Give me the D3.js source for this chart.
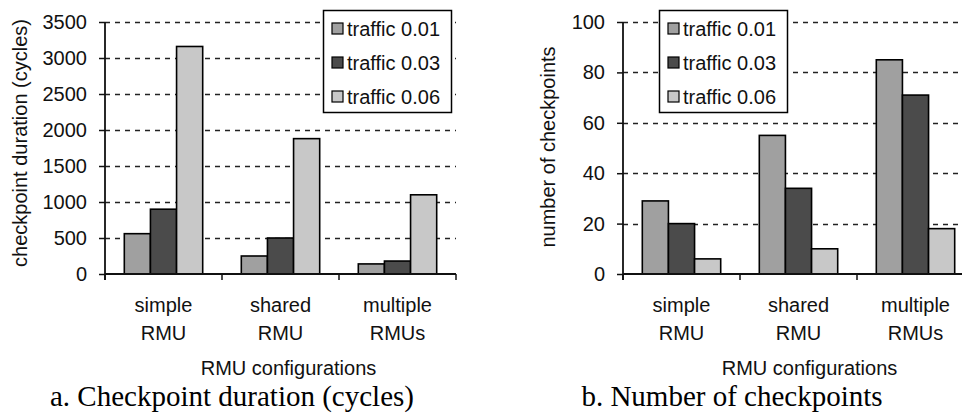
<!DOCTYPE html>
<html>
<head>
<meta charset="utf-8">
<script src="https://cdn.jsdelivr.net/npm/d3@7"></script>
<style>
  html, body { margin: 0; padding: 0; background: #ffffff; }
  svg { display: block; }
  .sans { font-family: Arial, "Liberation Sans", sans-serif; fill: #111; }
  .serif { font-family: "Times New Roman", "Liberation Serif", serif; fill: #000; }
</style>
</head>
<body>
<svg id="chart" width="962" height="414"></svg>
<script>
// ---- data ----
const categories = [["simple", "RMU"], ["shared", "RMU"], ["multiple", "RMUs"]];
const seriesNames = ["traffic 0.01", "traffic 0.03", "traffic 0.06"];
const seriesColors = ["#a0a0a0", "#4b4b4b", "#c8c8c8"];
const durationValues = [
  [560, 900, 3160],   // simple RMU
  [250, 500, 1880],   // shared RMU
  [140, 180, 1100]    // multiple RMUs
];
const checkpointValues = [
  [29, 20, 6],
  [55, 34, 10],
  [85, 71, 18]
];
const durationTicks = [0, 500, 1000, 1500, 2000, 2500, 3000, 3500];
const checkpointTicks = [0, 20, 40, 60, 80, 100];

const FS = 20;
const svg = d3.select("#chart");
svg.append("rect").attr("x", 0).attr("y", 0).attr("width", 962).attr("height", 414).attr("fill", "#fff");

function drawPanel(opts) {
  const g = svg.append("g");
  const catKeys = categories.map((c, i) => i);
  const x0 = d3.scaleBand().domain(catKeys).range([opts.left, opts.right]).paddingInner(0).paddingOuter(0);
  const bw = x0.bandwidth();
  const x1 = d3.scaleBand().domain(d3.range(seriesNames.length))
    .range([bw * 0.165, bw * 0.835]).padding(0);
  const y = d3.scaleLinear().domain([0, opts.max]).range([opts.bottom, opts.top]);

  // gridlines
  g.append("g").selectAll("line").data(opts.ticks.filter(t => t > 0)).join("line")
    .attr("x1", opts.left).attr("x2", opts.right)
    .attr("y1", d => Math.round(y(d)) + 0.5).attr("y2", d => Math.round(y(d)) + 0.5)
    .attr("stroke", "#222").attr("stroke-width", 1.3).attr("stroke-dasharray", "5,5");

  // y axis
  const yAxis = d3.axisLeft(y).tickValues(opts.ticks).tickFormat(d3.format("d")).tickSize(6).tickPadding(12);
  const ya = g.append("g").attr("transform", `translate(${opts.left},0)`).call(yAxis);
  ya.select(".domain").remove();
  ya.selectAll(".tick line").attr("stroke", "#111").attr("stroke-width", 1.5);
  ya.selectAll(".tick text").attr("class", "sans").attr("font-size", FS).attr("fill", "#111")
    .attr("font-family", "Arial, 'Liberation Sans', sans-serif");
  g.append("line").attr("x1", opts.left).attr("x2", opts.left)
    .attr("y1", opts.top).attr("y2", opts.bottom + 6).attr("stroke", "#111").attr("stroke-width", 1.8);

  // bars
  const groups = g.append("g").selectAll("g").data(opts.values).join("g")
    .attr("transform", (d, i) => `translate(${x0(i)},0)`);
  groups.selectAll("rect").data(d => d).join("rect")
    .attr("x", (d, j) => x1(j))
    .attr("width", x1.bandwidth())
    .attr("y", d => y(d))
    .attr("height", d => y(0) - y(d))
    .attr("fill", (d, j) => seriesColors[j])
    .attr("stroke", "#000").attr("stroke-width", 1.6);

  // x axis
  g.append("line").attr("x1", opts.left).attr("x2", opts.right)
    .attr("y1", opts.bottom).attr("y2", opts.bottom).attr("stroke", "#111").attr("stroke-width", 1.8);
  const bounds = catKeys.map(i => x0(i)).concat([x0(catKeys[catKeys.length - 1]) + bw]);
  g.append("g").selectAll("line").data(bounds).join("line")
    .attr("x1", d => d).attr("x2", d => d)
    .attr("y1", opts.bottom).attr("y2", opts.bottom + 6)
    .attr("stroke", "#111").attr("stroke-width", 1.5);

  // category labels
  const lab = g.append("g").selectAll("text").data(categories).join("text")
    .attr("class", "sans").attr("font-size", FS).attr("text-anchor", "middle")
    .attr("x", (d, i) => x0(i) + bw / 2);
  lab.append("tspan").attr("x", (d, i) => x0(i) + bw / 2).attr("y", 312).text(d => d[0]);
  lab.append("tspan").attr("x", (d, i) => x0(i) + bw / 2).attr("y", 340).text(d => d[1]);

  // axis titles
  g.append("text").attr("class", "sans").attr("font-size", FS).attr("text-anchor", "middle")
    .attr("x", (opts.left + Math.min(opts.right, 962)) / 2 + opts.xTitleShift).attr("y", 375).text("RMU configurations");
  g.append("text").attr("class", "sans").attr("font-size", FS).attr("text-anchor", "middle")
    .attr("transform", `translate(${opts.yTitleX},${opts.yTitleY}) rotate(-90)`)
    .text(opts.yTitle);

  // legend
  const lg = g.append("g").attr("transform", `translate(${opts.legendX},10)`);
  lg.append("rect").attr("x", 0.5).attr("y", 0.5).attr("width", 128).attr("height", 102)
    .attr("fill", "#fff").attr("stroke", "#000").attr("stroke-width", 1.5);
  const items = lg.selectAll("g.item").data(seriesNames).join("g").attr("class", "item")
    .attr("transform", (d, i) => `translate(0,${18 + i * 34})`);
  items.append("rect").attr("x", 9).attr("y", -5).attr("width", 11).attr("height", 11)
    .attr("fill", (d, i) => seriesColors[i]).attr("stroke", "#000").attr("stroke-width", 1.2);
  items.append("text").attr("class", "sans").attr("font-size", FS).attr("x", 24).attr("y", 7.5).text(d => d);

  // caption
  svg.append("text").attr("class", "serif").attr("font-size", 29).attr("text-anchor", "middle")
    .attr("x", opts.captionX).attr("y", 406).text(opts.caption);
}

drawPanel({
  left: 105, right: 456, top: 22, bottom: 274, max: 3500,
  ticks: durationTicks, values: durationValues,
  yTitle: "checkpoint duration (cycles)", yTitleX: 27, yTitleY: 143,
  legendX: 323, xTitleShift: 8,
  caption: "a. Checkpoint duration (cycles)", captionX: 232
});

drawPanel({
  left: 623, right: 974, top: 22, bottom: 274, max: 100,
  ticks: checkpointTicks, values: checkpointValues,
  yTitle: "number of checkpoints", yTitleX: 555, yTitleY: 147,
  legendX: 659, xTitleShift: 17,
  caption: "b. Number of checkpoints", captionX: 732
});
</script>
</body>
</html>
